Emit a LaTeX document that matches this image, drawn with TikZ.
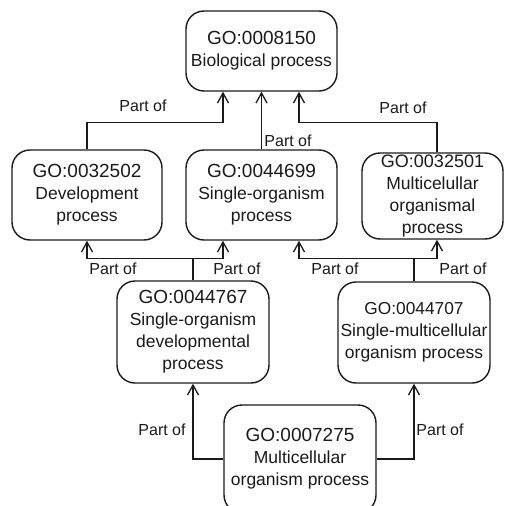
\documentclass[tikz,border=0pt]{standalone}
\usepackage{fontspec}
\setmainfont{Liberation Sans}
\usetikzlibrary{arrows.meta}
\definecolor{ink}{HTML}{1A1A1A}
\tikzset{
  gobox/.style={draw=ink, line width=1.4pt, rounded corners=18pt, inner sep=0pt,
    align=center, text=ink, font=\fontsize{17.5}{22}\selectfont},
  link/.style={draw=ink, line width=1.3pt, -{Straight Barb[length=10pt,width=11pt]}},
  partof/.style={text=ink, font=\fontsize{16}{19}\selectfont, inner sep=0pt},
}
\newcommand{\goid}[1]{{\fontsize{19}{22}\selectfont #1}}
\begin{document}
\begin{tikzpicture}[x=1pt,y=-1pt]
\useasboundingbox (0,0) rectangle (504,506);

% terms
\node[gobox, minimum width=151pt, minimum height=80pt] (bp) at (261.5,51)
  {\goid{GO:0008150}\\Biological process};
\node[gobox, minimum width=150pt, minimum height=90pt] (dev) at (87,195)
  {\goid{GO:0032502}\\Development\\process};
\node[gobox, minimum width=151pt, minimum height=90pt] (sop) at (261.5,195)
  {\goid{GO:0044699}\\Single-organism\\process};
\node[gobox, minimum width=141pt, minimum height=86pt] (mop) at (432.5,196)
  {{\fontsize{18}{22}\selectfont GO:0032501}\\Multicelullar\\organismal\\process};
\node[gobox, minimum width=152pt, minimum height=102pt] (sod) at (193,332)
  {\goid{GO:0044767}\\Single-organism\\developmental\\process};
\node[gobox, minimum width=152pt, minimum height=101pt] (smo) at (414,332.5)
  {{\fontsize{17.3}{22}\selectfont GO:0044707}\\Single-multicellular\\organism process};
\node[gobox, minimum width=152pt, minimum height=108pt] (mcp) at (300,459)
  {\goid{GO:0007275}\\Multicellular\\organism process};

% junctions of the shared branches
\coordinate (j1) at ([yshift=22pt]sod.north);
\coordinate (j2) at ([yshift=23pt]smo.north);

% part-of relations
\draw[link] (dev.north) |- ([xshift=-38.5pt,yshift=-31pt]bp.south) -- ([xshift=-38.5pt]bp.south);
\draw[link] (sop.north) -- (bp.south);
\draw[link] ([xshift=4.5pt]mop.north) |- ([xshift=37.5pt,yshift=-31pt]bp.south) -- ([xshift=37.5pt]bp.south);

\draw[link] (sod.north) -- (j1) -| (dev.south);
\draw[link] (j1) -| ([xshift=-38.5pt]sop.south);
\draw[link] (smo.north) -- (j2) -| ([xshift=37.5pt]sop.south);
\draw[link] (j2) -| ([xshift=4.5pt]mop.south);

\draw[link] (mcp.west) -| (sod.south);
\draw[link] (mcp.east) -| (smo.south);

% relation labels
\node[partof] (l1) at (143,106) {Part of};
\node[partof] (l2) at (288,141) {Part of};
\node[partof] (l3) at (403,108) {Part of};
\node[partof] (l4) at (113,269) {Part of};
\node[partof] (l5) at (237,269) {Part of};
\node[partof] (l6) at (335,269) {Part of};
\node[partof] (l7) at (463,269) {Part of};
\node[partof] (l8) at (162,430) {Part of};
\node[partof] (l9) at (440,430) {Part of};
\end{tikzpicture}
\end{document}
